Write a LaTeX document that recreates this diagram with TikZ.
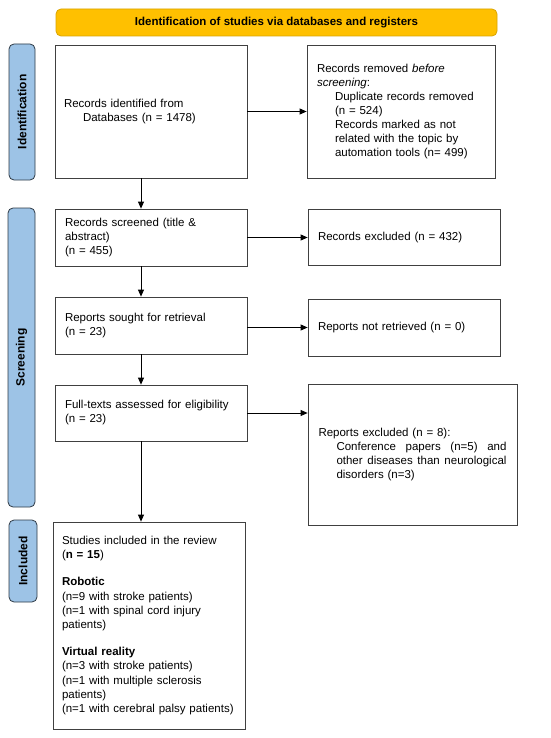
\documentclass[tikz,border=0pt]{standalone}
\usepackage{fontspec}
\setmainfont{Liberation Sans}
\usetikzlibrary{arrows.meta}
\definecolor{gold}{HTML}{FFC000}
\definecolor{goldline}{HTML}{D9A400}
\definecolor{sideblue}{HTML}{9DC3E6}
\definecolor{sideline}{HTML}{2E3A46}
\definecolor{boxline}{HTML}{404040}
\begin{document}
\begin{tikzpicture}[x=1pt,y=-1pt,
  font=\fontsize{11.5}{14}\selectfont,
  stepbox/.style={draw=boxline, line width=0.8pt, rectangle, inner ysep=0pt, align=left},
  sidelabel/.style={draw=sideline, fill=sideblue, line width=0.8pt, rounded corners=5pt, inner sep=0pt, rotate=90, font=\fontsize{12}{14}\selectfont\bfseries},
  arr/.style={-{Triangle[length=7pt,width=6pt]}, line width=0.8pt, draw=black}
]
\useasboundingbox (0,0) rectangle (550,738);
\fill[white] (0,0) rectangle (550,738);

% banner
\node[draw=goldline, fill=gold, line width=0.8pt, rounded corners=5pt, minimum width=441pt, minimum height=27pt, inner sep=0pt, font=\fontsize{11.5}{14}\selectfont\bfseries] (banner) at (276.5,22.5) {Identification of studies via databases and registers};

% side labels (rotated: width = vertical extent)
\node[sidelabel, minimum width=136pt, minimum height=26pt] (lid) at (22,112) {Identification};
\node[sidelabel, minimum width=299pt, minimum height=27pt] (lsc) at (21.5,357.5) {Screening};
\node[sidelabel, minimum width=82pt, minimum height=28pt] (lin) at (23,561) {Included};

% boxes
\node[stepbox, minimum width=192pt, minimum height=133pt, text width=174pt, inner xsep=9pt] (ident) at (151,111.5)
  {Records identified from\\\hspace*{19pt}Databases (n = 1478)};
\node[stepbox, minimum width=188pt, minimum height=133pt, text width=168pt, inner xsep=10pt] (removed) at (401,111.5)
  {Records removed \textit{before}\\\textit{screening}:\\
   \hspace*{18pt}Duplicate records removed\\
   \hspace*{18pt}(n = 524)\\
   \hspace*{18pt}Records marked as not\\
   \hspace*{18pt}related with the topic by\\
   \hspace*{18pt}automation tools (n= 499)};

\node[stepbox, minimum width=192pt, minimum height=57pt, text width=172pt, inner xsep=10pt] (screened) at (151,237.5)
  {Records screened (title \&\\abstract)\\(n = 455)};
\node[stepbox, minimum width=192pt, minimum height=56pt, text width=172pt, inner xsep=10pt] (excluded) at (404,237.5)
  {Records excluded (n = 432)};

\node[stepbox, minimum width=192pt, minimum height=57pt, text width=172pt, inner xsep=10pt] (sought) at (151,325.5)
  {Reports sought for retrieval\\(n = 23)};
\node[stepbox, minimum width=192pt, minimum height=57pt, text width=172pt, inner xsep=10pt] (notretr) at (404,327.5)
  {Reports not retrieved (n = 0)};

\node[stepbox, minimum width=192pt, minimum height=56pt, text width=172pt, inner xsep=10pt] (full) at (151,413)
  {Full-texts assessed for eligibility\\(n = 23)};
\node[stepbox, minimum width=209pt, minimum height=141pt, text width=188pt, inner xsep=10.5pt] (repexcl) at (412.5,454.5)
  {Reports excluded (n = 8):\\
   \hspace*{18pt}\hbox to 170pt{Conference\hfill papers\hfill (n=5)\hfill and}\\
   \hspace*{18pt}\hbox to 170pt{other\hfill diseases\hfill than\hfill neurological}\\
   \hspace*{18pt}disorders (n=3)};

\node[stepbox, minimum width=192pt, minimum height=207pt, text width=174pt, inner xsep=9pt, font=\fontsize{11.5}{14.2}\selectfont] (incl) at (149,625.5)
  {Studies included in the review\\(\textbf{n = 15})\\[13pt]
   \textbf{Robotic}\\
   (n=9 with stroke patients)\\
   (n=1 with spinal cord injury\\
   patients)\\[13pt]
   \textbf{Virtual reality}\\
   (n=3 with stroke patients)\\
   (n=1 with multiple sclerosis\\
   patients)\\
   (n=1 with cerebral palsy patients)};

% connectors
\draw[arr] (ident.east) -- (removed.west);
\draw[arr] (screened.east) -- (screened.east -| excluded.west);
\draw[arr] (sought.east |- notretr.west) -- (notretr.west);
\draw[arr] (full.east) -- (full.east -| repexcl.west);
\draw[arr] ([xshift=-10pt]ident.south) -- ([xshift=-10pt]screened.north);
\draw[arr] ([xshift=-10pt]screened.south) -- ([xshift=-10pt]sought.north);
\draw[arr] ([xshift=-10pt]sought.south) -- ([xshift=-10pt]full.north);
\draw[arr] ([xshift=-10pt]full.south) -- ([xshift=-8pt]incl.north);
\end{tikzpicture}
\end{document}
